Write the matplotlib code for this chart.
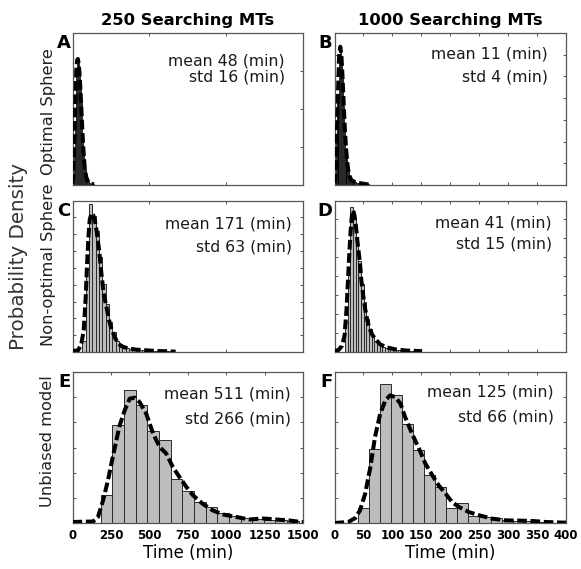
import numpy as np
import matplotlib.pyplot as plt

# ---------------- data (probability densities, 1/min) ----------------
# A: optimal sphere, 250 MTs
a_start, a_bin = 5, 5
a_bars = [0.0012, 0.0048, 0.0101, 0.0149, 0.0182, 0.0199, 0.0199, 0.0192, 0.0178,
          0.0158, 0.0134, 0.0108, 0.0082, 0.006, 0.0041, 0.0026, 0.0017, 0.0012,
          0.0008, 0.0006, 0.0004, 0.0003, 0.0002, 0.0002, 0.0001, 0.0001, 0.0001]
a_cx = [0, 5, 10, 15, 20, 25, 30, 35, 40, 45, 50, 55, 60, 65, 70, 75, 80, 90, 100, 110, 120, 140]
a_cy = [0.0002, 0.0012, 0.0048, 0.0101, 0.0149, 0.0182, 0.0197, 0.0199, 0.0192, 0.0178,
        0.0158, 0.0134, 0.0108, 0.0082, 0.006, 0.0041, 0.0026, 0.0012, 0.0006, 0.0003,
        0.0002, 0.0001]

# B: optimal sphere, 1000 MTs
b_start, b_bin = 1, 2
b_bars = [0.0042, 0.0252, 0.0504, 0.0714, 0.0764, 0.0714, 0.0588, 0.0437, 0.0302, 0.0202,
          0.0126, 0.0076, 0.005, 0.0034, 0.0025, 0.0021, 0.0017, 0.0014, 0.0013, 0.0011,
          0.0009, 0.0008, 0.0008, 0.0007, 0.0006, 0.0005, 0.0004, 0.0003, 0.0003, 0.0002]
b_cx = [0, 2, 4, 6, 8, 10, 12, 14, 16, 18, 20, 22, 24, 26, 28, 30, 35, 40, 50, 60]
b_cy = [0.001, 0.0042, 0.0252, 0.0504, 0.0714, 0.0764, 0.0714, 0.0588, 0.0437, 0.0302,
        0.0202, 0.0126, 0.0076, 0.005, 0.0034, 0.0025, 0.0017, 0.0012, 0.0007, 0.0002]

# C: non-optimal sphere, 250 MTs
c_start, c_bin = 65, 21.6
c_bars = [0.00063, 0.00495, 0.00882, 0.0081, 0.0072, 0.00567, 0.00405, 0.00288, 0.0018,
          0.00117, 0.00063, 0.00045, 0.00032, 0.00023, 0.00018, 0.00016, 0.00014, 0.00012,
          0.00011, 0.00009, 0.00008, 0.00007, 0.00006, 0.00005, 0.00005, 0.00004, 0.00003,
          0.00002]
c_cx = [0, 37, 58, 73, 86, 95, 104, 112, 123, 134, 145, 156, 173, 188, 203, 221, 238, 253,
        275, 296, 329, 372, 415, 480, 545, 632, 671]
c_cy = [0.00006, 0.0001, 0.0005, 0.00129, 0.00328, 0.00527, 0.00686, 0.00785, 0.00824,
        0.00815, 0.00785, 0.00725, 0.00606, 0.00467, 0.00347, 0.00268, 0.00189, 0.0014,
        0.00089, 0.0005, 0.0003, 0.0002, 0.00014, 0.0001, 0.00006, 0.00004, 0.00002]

# D: non-optimal sphere, 1000 MTs
d_start, d_bin = 18.4, 4.6
d_bars = [0.008, 0.022, 0.0384, 0.0352, 0.03, 0.024, 0.018, 0.0132, 0.0088, 0.006, 0.004,
          0.003, 0.002, 0.0016, 0.0012, 0.001, 0.0008, 0.0007, 0.0006, 0.0005, 0.0004,
          0.0004, 0.0003, 0.0003, 0.0002, 0.0002, 0.0002, 0.0001, 0.0001]
d_cx = [0, 6.9, 12.7, 17.3, 20.8, 23.1, 25.4, 27.7, 30, 32.3, 34.6, 36.9, 40.4, 43.9, 46.2,
        49.7, 53.1, 56.6, 60.1, 64.7, 70.5, 79.1, 90.7, 105.2, 122.5, 139.8, 151.4]
d_cy = [0.0003, 0.0005, 0.0016, 0.0042, 0.0113, 0.0184, 0.0254, 0.0316, 0.036, 0.0374,
        0.036, 0.0334, 0.0281, 0.0237, 0.0192, 0.0148, 0.0113, 0.0084, 0.0064, 0.0047,
        0.0034, 0.002, 0.0012, 0.0007, 0.0004, 0.0003, 0.0002]

# E: unbiased model, 250 MTs
e_start, e_bin = 184, 75.8
e_bars = [0.00055, 0.00194, 0.00264, 0.00234, 0.00182, 0.00164, 0.00088, 0.00063, 0.00041,
          0.00032, 0.00019, 0.00014, 0.00009, 0.00008, 0.00006, 0.00005, 0.00004]
e_cx = [0, 134, 166, 199, 231, 264, 307, 340, 372, 405, 437, 480, 524, 567, 610, 653, 697,
        740, 784, 848, 913, 978, 1065, 1151, 1238, 1324, 1411, 1487, 1500]
e_cy = [0.00002, 0.00003, 0.00012, 0.00045, 0.00085, 0.00134, 0.00194, 0.00224, 0.00247,
        0.00249, 0.0024, 0.00217, 0.00178, 0.00151, 0.00138, 0.00111, 0.00091, 0.00072,
        0.00055, 0.00038, 0.00025, 0.00017, 0.00012, 0.00007, 0.00009, 0.00007, 0.00005,
        0.00002, 0.00002]

# F: unbiased model, 1000 MTs
f_start, f_bin = 40.4, 19.1
f_bars = [0.0012, 0.00586, 0.01102, 0.01014, 0.0079, 0.00577, 0.00379, 0.00286, 0.00121,
          0.00158, 0.00053, 0.00048, 0.00036, 0.00024, 0.00018, 0.00012, 0.0001]
f_cx = [0, 24, 36, 44, 53, 62, 70, 79, 88, 96, 105, 114, 122, 134, 146, 157, 169, 180, 192,
        203, 215, 232, 250, 273, 296, 319, 342, 365, 397, 400]
f_cy = [0, 0.00008, 0.0004, 0.001, 0.00233, 0.00445, 0.00684, 0.00869, 0.00975, 0.01014,
        0.01001, 0.00948, 0.00842, 0.0071, 0.0059, 0.00472, 0.00379, 0.00299, 0.00233,
        0.00167, 0.00127, 0.00087, 0.00061, 0.00034, 0.00021, 0.00019, 0.00016, 0.00008,
        0.00003, 0.00003]

means = [48, 11, 171, 41, 511, 125]
stds = [16, 4, 63, 15, 266, 66]
letters = ["A", "B", "C", "D", "E", "F"]
col_titles = ["250 Searching MTs", "1000 Searching MTs"]
row_labels = ["Optimal Sphere", "Non-optimal Sphere", "Unbiased model"]
left_ticks = [0, 250, 500, 750, 1000, 1250, 1500]
right_ticks = [0, 50, 100, 150, 200, 250, 300, 350, 400]

# ---------------- layout ----------------
W, H = 581, 569
fig = plt.figure(figsize=(W / 100, H / 100), dpi=100)

cols = [(72.5, 303), (334.5, 566)]
rows = [(33, 185), (200.5, 352), (372, 523)]
ylims = [0.024, 0.084, 0.009, 0.04, 0.003, 0.012]
ysteps = [0.006, 0.012, 0.001, 0.005, 0.0005, 0.002]
# text anchor (right x px, line1 y px, line2 y px)
txt_pos = [(285, 61, 77), (548, 54, 77), (292, 224, 247),
           (552, 223, 244), (291, 394, 419), (554, 392, 417)]

panels = [(a_start, a_bin, a_bars, a_cx, a_cy),
          (b_start, b_bin, b_bars, b_cx, b_cy),
          (c_start, c_bin, c_bars, c_cx, c_cy),
          (d_start, d_bin, d_bars, d_cx, d_cy),
          (e_start, e_bin, e_bars, e_cx, e_cy),
          (f_start, f_bin, f_bars, f_cx, f_cy)]

for i, (start, bw, bars, cx, cy) in enumerate(panels):
    r, c = i // 2, i % 2
    x0, x1 = cols[c]
    y0, y1 = rows[r]
    ax = fig.add_axes([x0 / W, 1 - y1 / H, (x1 - x0) / W, (y1 - y0) / H])

    edges = start + bw * np.arange(len(bars))
    # the top-row spikes are so narrow that they render as a black mass
    face = 'black' if r == 0 else '#bdbdbd'
    ax.bar(edges, bars, width=bw, align='edge', color=face,
           edgecolor='#2a2a2a', linewidth=0.7, zorder=2)
    ax.plot(cx, cy, color='black', lw=2.9, dashes=(2.4, 0.9),
            dash_capstyle='butt', zorder=3, clip_on=True)

    xmax = 1500 if c == 0 else 400
    ax.set_xlim(0, xmax)
    ax.set_ylim(0, ylims[i])
    ax.set_yticks(np.arange(0, ylims[i] + ysteps[i] / 2, ysteps[i]))
    ax.set_yticklabels([])
    if r == 2:
        ticks = left_ticks if c == 0 else right_ticks
        ax.set_xticks(ticks)
        ax.set_xticklabels([str(t) for t in ticks], fontsize=8.5, fontweight='bold')
        ax.set_xlabel("Time (min)", fontsize=12, labelpad=2)
    else:
        ax.set_xticks(np.arange(0, xmax + 1, 500 if c == 0 else 50))
        ax.set_xticklabels([])

    ax.tick_params(direction='in', length=2.5, width=0.7, color='#555555',
                   top=True, right=True, pad=4)
    for sp in ax.spines.values():
        sp.set_color('#555555')
        sp.set_linewidth(0.9)

    # stats text
    tx, ty1, ty2 = txt_pos[i]
    fig.text(tx / W, 1 - ty1 / H, f"mean {means[i]} (min)", ha='right', va='center',
             fontsize=11.3, color='#1a1a1a')
    fig.text(tx / W, 1 - ty2 / H, f"std {stds[i]} (min)", ha='right', va='center',
             fontsize=11.3, color='#1a1a1a')

    # panel letter
    fig.text((x0 - 2) / W, 1 - (y0 + 1) / H, letters[i], ha='right', va='top',
             fontsize=13, fontweight='bold')

    if r == 0:
        fig.text((x0 + x1) / 2 / W, 1 - 20 / H, col_titles[c], ha='center', va='center',
                 fontsize=11.8, fontweight='bold')

# row labels
row_centers = [112, 265, 441]
for lab, yc in zip(row_labels, row_centers):
    fig.text(48 / W, 1 - yc / H, lab, rotation=90, ha='center', va='center',
             fontsize=11.7, color='#222222')

fig.text(19 / W, 1 - 256 / H, "Probability Density", rotation=90, ha='center',
         va='center', fontsize=14.3, color='#333333')

fig.savefig("out.png", dpi=100)
